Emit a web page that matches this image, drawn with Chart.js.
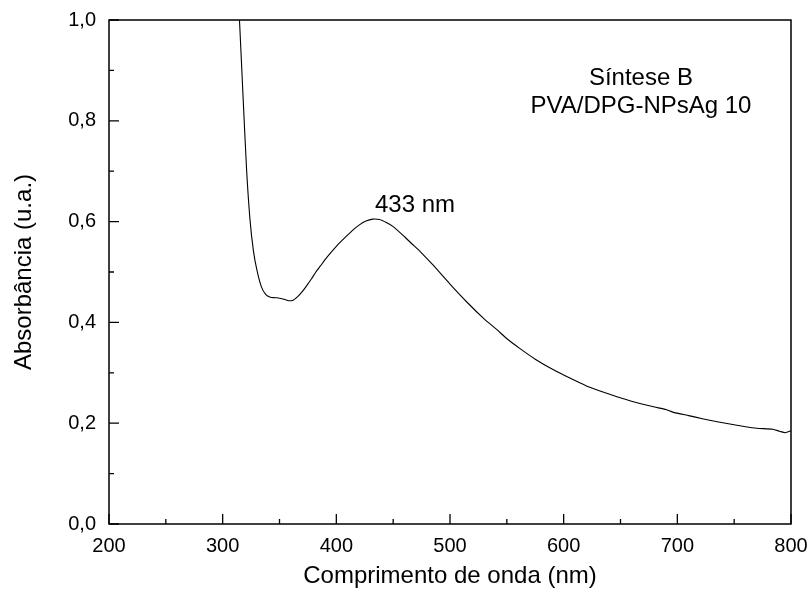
<!DOCTYPE html>
<html>
<head>
<meta charset="utf-8">
<script src="https://cdn.jsdelivr.net/npm/chart.js@4"></script>
<style>
  html, body { margin: 0; padding: 0; background: #fff; }
  #chart { display: block; }
</style>
</head>
<body>
<canvas id="chart" width="811" height="598"></canvas>
<script>
// Spectrum (wavelength in nm, absorbance in a.u.)
const wavelengths = [312, 315, 318, 321, 324, 327, 330, 334, 338, 342, 346, 350, 354, 358, 362,
  366, 370, 374, 378, 382, 386, 392, 400, 408, 415, 420, 426, 432, 438, 444, 450, 460, 466,
  474, 485, 500, 515, 530, 541, 551, 561, 575, 591, 605, 620, 632, 645, 655, 667, 680, 690,
  696, 710, 722, 735, 750, 760, 770, 784, 790, 795, 800];
const absorbance = [1.12, 0.99, 0.845, 0.705, 0.605, 0.543, 0.505, 0.471, 0.455, 0.450, 0.449,
  0.448, 0.446, 0.443, 0.444, 0.451, 0.461, 0.473, 0.486, 0.500, 0.512, 0.530, 0.551, 0.569,
  0.584, 0.593, 0.601, 0.605, 0.604, 0.598, 0.590, 0.570, 0.557, 0.540, 0.514, 0.476, 0.440,
  0.407, 0.386, 0.366, 0.349, 0.327, 0.306, 0.290, 0.274, 0.264, 0.254, 0.247, 0.239, 0.232,
  0.227, 0.222, 0.215, 0.209, 0.203, 0.197, 0.193, 0.190, 0.188, 0.184, 0.181, 0.185];

const xMajorTicks = [200, 300, 400, 500, 600, 700, 800];
const xMinorTicks = [250, 350, 450, 550, 650, 750];
const yMajorTicks = [0, 0.2, 0.4, 0.6, 0.8, 1.0];
const yMinorTicks = [0.1, 0.3, 0.5, 0.7, 0.9];

const peakLabel = "433 nm";
const sampleLines = ["Síntese B", "PVA/DPG-NPsAg 10"];

const FONT = "Arial, 'Liberation Sans', sans-serif";

// Box around the plot, inward ticks and the text notes
const framePlugin = {
  id: "frame",
  afterDraw(chart) {
    const ctx = chart.ctx;
    const area = chart.chartArea;
    const xs = chart.scales.x;
    const ys = chart.scales.y;
    ctx.save();
    ctx.strokeStyle = "#000";
    ctx.lineWidth = 1.5;
    ctx.strokeRect(area.left, area.top, area.right - area.left, area.bottom - area.top);

    ctx.lineWidth = 1.3;
    ctx.beginPath();
    xMajorTicks.forEach(v => {
      const px = xs.getPixelForValue(v);
      ctx.moveTo(px, area.bottom);
      ctx.lineTo(px, area.bottom - 10);
    });
    xMinorTicks.forEach(v => {
      const px = xs.getPixelForValue(v);
      ctx.moveTo(px, area.bottom);
      ctx.lineTo(px, area.bottom - 5);
    });
    yMajorTicks.forEach(v => {
      const py = ys.getPixelForValue(v);
      ctx.moveTo(area.left, py);
      ctx.lineTo(area.left + 10, py);
    });
    yMinorTicks.forEach(v => {
      const py = ys.getPixelForValue(v);
      ctx.moveTo(area.left, py);
      ctx.lineTo(area.left + 5, py);
    });
    ctx.stroke();

    ctx.fillStyle = "#000";
    ctx.font = "24px " + FONT;
    ctx.textBaseline = "alphabetic";
    ctx.textAlign = "left";
    ctx.fillText(peakLabel, xs.getPixelForValue(434), ys.getPixelForValue(0.62));

    ctx.textAlign = "center";
    ctx.fillText(sampleLines[0], xs.getPixelForValue(668), ys.getPixelForValue(0.871));
    ctx.fillText(sampleLines[1], xs.getPixelForValue(668), ys.getPixelForValue(0.815));
    ctx.restore();
  }
};

const ctx = document.getElementById("chart").getContext("2d");
new Chart(ctx, {
  type: "line",
  data: {
    datasets: [{
      data: wavelengths.map((w, i) => ({ x: w, y: absorbance[i] })),
      borderColor: "#000",
      borderWidth: 1.1,
      pointRadius: 0,
      tension: 0.2,
      fill: false
    }]
  },
  options: {
    responsive: false,
    animation: false,
    layout: { padding: { top: 20, right: 20, left: 0, bottom: 0 } },
    plugins: {
      legend: { display: false },
      tooltip: { enabled: false }
    },
    scales: {
      x: {
        type: "linear",
        min: 200,
        max: 800,
        afterFit(scale) {
          scale.height = 74;
          scale.paddingLeft = 0;
          scale.paddingRight = 0;
        },
        grid: { display: false, drawTicks: false },
        border: { display: false },
        ticks: {
          stepSize: 100,
          padding: 10,
          color: "#000",
          font: { family: FONT, size: 20 }
        },
        title: {
          display: true,
          text: "Comprimento de onda (nm)",
          color: "#000",
          font: { family: FONT, size: 24 },
          padding: { top: 7, bottom: 7 }
        }
      },
      y: {
        min: 0,
        max: 1,
        afterFit(scale) {
          scale.width = 109;
          scale.paddingTop = 0;
          scale.paddingBottom = 0;
        },
        grid: { display: false, drawTicks: false },
        border: { display: false },
        ticks: {
          stepSize: 0.2,
          padding: 13,
          color: "#000",
          font: { family: FONT, size: 20 },
          callback: v => v.toFixed(1).replace(".", ",")
        },
        title: {
          display: true,
          text: "Absorbância (u.a.)",
          color: "#000",
          font: { family: FONT, size: 24 },
          padding: { top: 10, bottom: 10 }
        }
      }
    }
  },
  plugins: [framePlugin]
});
</script>
</body>
</html>
